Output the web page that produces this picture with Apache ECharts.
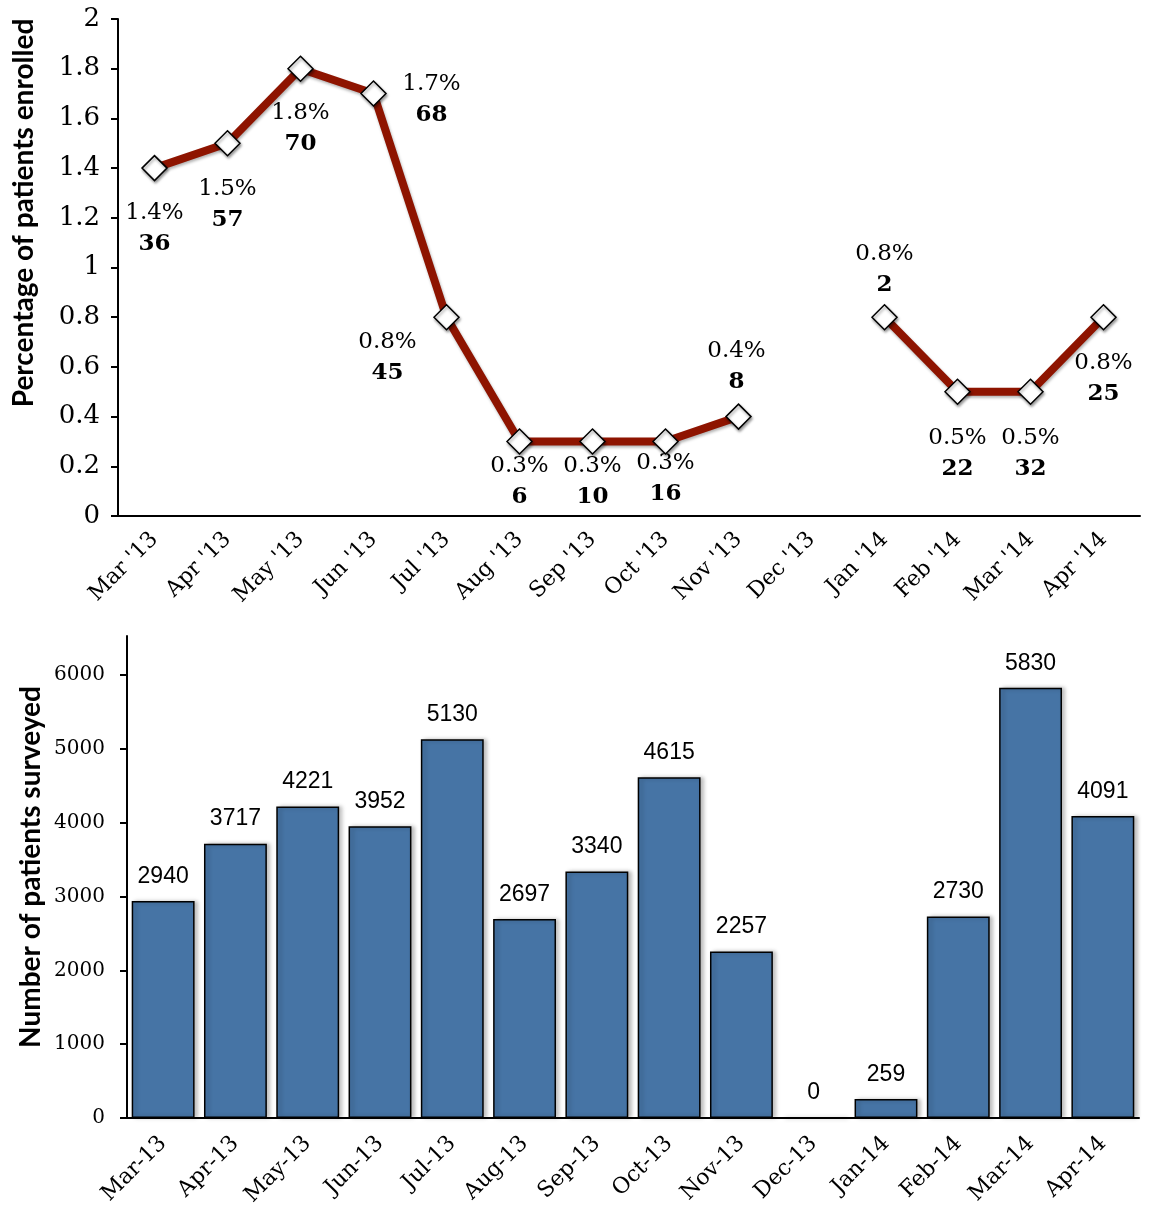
<!DOCTYPE html>
<html>
<head>
<meta charset="utf-8">
<title>Enrollment and survey counts</title>
<script src="https://cdn.jsdelivr.net/npm/echarts@6/dist/echarts.min.js"></script>
<style>
  html, body { margin: 0; padding: 0; background: #fff; }
  #chart { width: 1149px; height: 1214px; }
</style>
</head>
<body>
<div id="chart"></div>
<script>
// months for both panels
var monthsTop = ["Mar '13", "Apr '13", "May '13", "Jun '13", "Jul '13", "Aug '13", "Sep '13",
  "Oct '13", "Nov '13", "Dec '13", "Jan '14", "Feb '14", "Mar '14", "Apr '14"]
var monthsBottom = ['Mar-13', 'Apr-13', 'May-13', 'Jun-13', 'Jul-13', 'Aug-13', 'Sep-13',
  'Oct-13', 'Nov-13', 'Dec-13', 'Jan-14', 'Feb-14', 'Mar-14', 'Apr-14']

// percentage enrolled (no data for Dec '13)
var pctEnrolled = [1.4, 1.5, 1.8, 1.7, 0.8, 0.3, 0.3, 0.3, 0.4, null, 0.8, 0.5, 0.5, 0.8]
// patients enrolled
var numEnrolled = [36, 57, 70, 68, 45, 6, 10, 16, 8, null, 2, 22, 32, 25]
// patients surveyed
var numSurveyed = [2940, 3717, 4221, 3952, 5130, 2697, 3340, 4615, 2257, 0, 259, 2730, 5830, 4091]

// where each two-line label sits relative to its marker
var labelOffsets = [[0, 60], [0, 61], [0, 60], [58, 6], [-59, 40], [0, 40], [0, 40],
  [0, 37], [-2, -50], [0, 0], [0, -48], [0, 62], [0, 62], [0, 61]]

var serif = 'DejaVu Serif'

var lineData = pctEnrolled.map(function (v, i) {
  return {
    value: v,
    label: { offset: labelOffsets[i] }
  }
})

var chart = echarts.init(document.getElementById('chart'))
chart.setOption({
  animation: false,
  graphic: [
    {
      type: 'text',
      x: 24, y: 213,
      rotation: Math.PI / 2,
      style: {
        text: 'Percentage of patients enrolled',
        font: 'bold 28px Lato',
        fill: '#000',
        textAlign: 'center',
        textVerticalAlign: 'middle'
      }
    },
    {
      type: 'text',
      x: 31, y: 867,
      rotation: Math.PI / 2,
      style: {
        text: 'Number of patients surveyed',
        font: 'bold 28px Lato',
        fill: '#000',
        textAlign: 'center',
        textVerticalAlign: 'middle'
      }
    }
  ],
  grid: [
    { left: 118, top: 19, width: 1022, height: 497 },
    { left: 127, top: 636, width: 1012, height: 482 }
  ],
  xAxis: [
    {
      type: 'category',
      gridIndex: 0,
      data: monthsTop,
      axisLine: { lineStyle: { color: '#000', width: 2 } },
      axisTick: { length: 8, lineStyle: { color: '#000', width: 2 } },
      axisLabel: {
        rotate: 45,
        margin: 20,
        interval: 0,
        color: '#000',
        fontFamily: serif,
        fontSize: 22
      }
    },
    {
      type: 'category',
      gridIndex: 1,
      data: monthsBottom,
      axisLine: { lineStyle: { color: '#000', width: 2 } },
      axisTick: { length: 8, lineStyle: { color: '#000', width: 2 } },
      axisLabel: {
        rotate: 45,
        margin: 22,
        interval: 0,
        color: '#000',
        fontFamily: serif,
        fontSize: 22
      }
    }
  ],
  yAxis: [
    {
      type: 'value',
      gridIndex: 0,
      min: 0,
      max: 2,
      interval: 0.2,
      axisLine: { show: true, lineStyle: { color: '#000', width: 2 } },
      axisTick: { show: true, length: 7, lineStyle: { color: '#000', width: 2 } },
      splitLine: { show: false },
      axisLabel: {
        color: '#000',
        fontFamily: serif,
        fontSize: 26,
        margin: 18
      }
    },
    {
      type: 'value',
      gridIndex: 1,
      min: 0,
      max: 6530,
      interval: 1000,
      axisLine: { show: true, lineStyle: { color: '#000', width: 2 } },
      axisTick: { show: true, length: 7, lineStyle: { color: '#000', width: 2 } },
      splitLine: { show: false },
      axisLabel: {
        color: '#000',
        fontFamily: serif,
        fontSize: 20,
        margin: 22,
        showMaxLabel: false,
        formatter: function (v) {
          return v % 1000 === 0 ? String(v) : ''
        }
      }
    }
  ],
  series: [
    {
      type: 'line',
      xAxisIndex: 0,
      yAxisIndex: 0,
      data: lineData,
      connectNulls: false,
      symbol: 'diamond',
      symbolSize: 25,
      lineStyle: {
        color: '#8e1400',
        width: 8,
        shadowColor: 'rgba(0,0,0,0.3)',
        shadowBlur: 3,
        shadowOffsetX: 1,
        shadowOffsetY: 2
      },
      itemStyle: {
        color: '#fff',
        borderColor: '#000',
        borderWidth: 1.5,
        shadowColor: 'rgba(0,0,0,0.4)',
        shadowBlur: 3,
        shadowOffsetX: 1,
        shadowOffsetY: 2
      },
      label: {
        show: true,
        position: 'inside',
        formatter: function (p) {
          var i = p.dataIndex
          if (pctEnrolled[i] == null) return ''
          return '{p|' + pctEnrolled[i] + '%}\n{n|' + numEnrolled[i] + '}'
        },
        rich: {
          p: { fontFamily: serif, fontSize: 23, color: '#000', lineHeight: 31, align: 'center' },
          n: { fontFamily: serif, fontSize: 23, fontWeight: 'bold', color: '#000', lineHeight: 31, align: 'center' }
        }
      }
    },
    {
      type: 'bar',
      xAxisIndex: 1,
      yAxisIndex: 1,
      data: numSurveyed,
      barCategoryGap: '13%',
      itemStyle: {
        color: '#4674a5',
        borderColor: '#000',
        borderWidth: 1.5,
        shadowColor: 'rgba(0,0,0,0.25)',
        shadowBlur: 4,
        shadowOffsetX: 3
      },
      label: {
        show: true,
        position: 'top',
        distance: 13,
        color: '#000',
        fontFamily: 'Liberation Sans',
        fontSize: 23
      }
    }
  ]
})
</script>
</body>
</html>
